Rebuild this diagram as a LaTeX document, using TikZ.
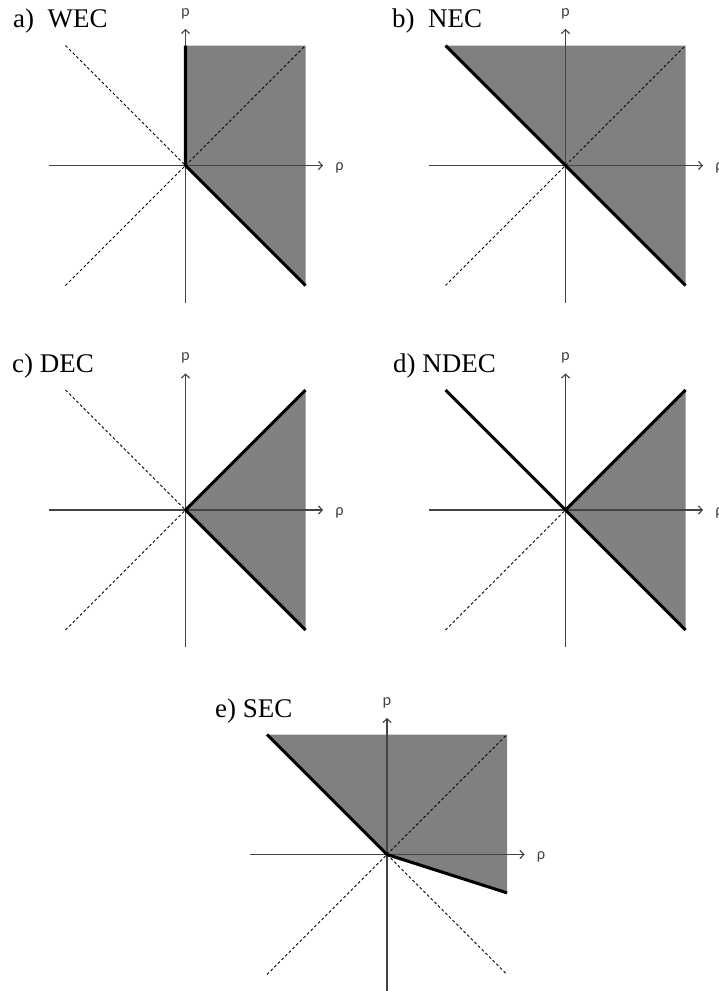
\documentclass[tikz,border=0pt]{standalone}
\usepackage{fontspec}
\setmainfont{Liberation Serif}
\newfontfamily\axisfont{Carlito}
\usepackage{tikz}
\usetikzlibrary{arrows.meta}
\definecolor{regiongray}{HTML}{808080}
\definecolor{axisgray}{HTML}{444444}

\begin{document}
\begin{tikzpicture}[
  region/.style={fill=regiongray, draw=none},
  axis/.style={draw=axisgray, line width=1pt,
    -{Straight Barb[length=3.4pt, width=7pt]}},
  diag/.style={black, line width=0.75pt, dash pattern=on 2.4pt off 2pt},
  bound/.style={black, line width=2.6pt, line join=round},
  rholabel/.style={right=10pt, yshift=-2pt, inner sep=0pt,
    font=\axisfont\fontsize{14}{16}\selectfont, text=axisgray},
  plabel/.style={above=8pt, inner sep=0pt,
    font=\axisfont\fontsize{14}{16}\selectfont, text=axisgray},
  paneltitle/.style={anchor=base west, inner sep=0pt,
    font=\fontsize{23}{28}\selectfont},
]
  \useasboundingbox (0,0) rectangle (21.57,-29.73);

  % a) WEC
  \begin{scope}[shift={(5.565,-4.965)}]
    \coordinate (Oa) at (0,0);
    \fill[region] (Oa) -- (0,3.6) -- (3.6,3.6) -- (3.6,-3.6) -- cycle;
    \draw[diag] (-3.6,3.6) -- (Oa);
    \draw[diag] (-3.6,-3.6) -- (Oa);
    \draw[diag] (Oa) -- (3.6,3.6);
    \draw[axis] (-4.11,0) -- (4.13,0) node[rholabel] (rhoa) {ρ};
    \draw[axis] (0,-4.12) -- (0,4.1) node[plabel] (pa) {p};
    \draw[bound] (0,3.6) -- (Oa) -- (3.6,-3.6);
  \end{scope}
  \node[paneltitle] (titlea) at (0.39,-0.84) {a)\ \ WEC};

  % b) NEC
  \begin{scope}[shift={(16.965,-4.965)}]
    \coordinate (Ob) at (0,0);
    \fill[region] (-3.6,3.6) -- (3.6,3.6) -- (3.6,-3.6) -- cycle;
    \draw[diag] (-3.6,-3.6) -- (Ob);
    \draw[diag] (Ob) -- (3.6,3.6);
    \draw[axis] (-4.11,0) -- (4.13,0) node[rholabel] (rhob) {ρ};
    \draw[axis] (0,-4.12) -- (0,4.1) node[plabel] (pb) {p};
    \draw[bound] (-3.6,3.6) -- (Ob) -- (3.6,-3.6);
  \end{scope}
  \node[paneltitle] (titleb) at (11.76,-0.84) {b)\ \ NEC};

  % c) DEC
  \begin{scope}[shift={(5.565,-15.3)}]
    \coordinate (Oc) at (0,0);
    \fill[region] (Oc) -- (3.6,3.6) -- (3.6,-3.6) -- cycle;
    \draw[diag] (-3.6,3.6) -- (Oc);
    \draw[diag] (-3.6,-3.6) -- (Oc);
    \draw[axis] (-4.11,0) -- (4.13,0) node[rholabel] (rhoc) {ρ};
    \draw[axis] (0,-4.12) -- (0,4.1) node[plabel] (pc) {p};
    \draw[bound] (3.6,3.6) -- (Oc) -- (3.6,-3.6);
  \end{scope}
  \node[paneltitle] (titlec) at (0.36,-11.16) {c) DEC};

  % d) NDEC
  \begin{scope}[shift={(16.965,-15.3)}]
    \coordinate (Od) at (0,0);
    \fill[region] (Od) -- (3.6,3.6) -- (3.6,-3.6) -- cycle;
    \draw[diag] (-3.6,-3.6) -- (Od);
    \draw[axis] (-4.11,0) -- (4.13,0) node[rholabel] (rhod) {ρ};
    \draw[axis] (0,-4.12) -- (0,4.1) node[plabel] (pd) {p};
    \draw[bound] (3.6,3.6) -- (Od) -- (3.6,-3.6);
    \draw[bound] (-3.6,3.6) -- (Od);
  \end{scope}
  \node[paneltitle] (titled) at (11.79,-11.16) {d) NDEC};

  % e) SEC
  \begin{scope}[shift={(11.61,-25.635)}]
    \coordinate (Oe) at (0,0);
    \fill[region] (-3.6,3.6) -- (3.6,3.6) -- (3.6,-1.15) -- (Oe) -- cycle;
    \draw[diag] (Oe) -- (3.6,3.6);
    \draw[diag] (-3.6,-3.6) -- (Oe);
    \draw[diag] (Oe) -- (3.6,-3.6);
    \draw[axis] (-4.11,0) -- (4.13,0) node[rholabel] (rhoe) {ρ};
    \draw[axis] (0,-4.12) -- (0,4.1) node[plabel] (pe) {p};
    \draw[bound] (-3.6,3.6) -- (Oe) -- (3.6,-1.15);
  \end{scope}
  \node[paneltitle] (titlee) at (6.45,-21.51) {e) SEC};
\end{tikzpicture}
\end{document}
